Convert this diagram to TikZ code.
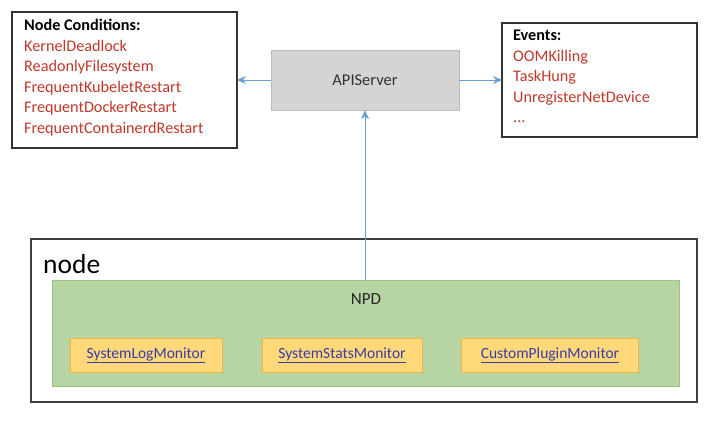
\documentclass[tikz,border=0pt]{standalone}
\usepackage{fontspec}
\setmainfont{Carlito}
\usetikzlibrary{arrows.meta}
\definecolor{redtxt}{HTML}{C0392B}
\definecolor{arrowblue}{HTML}{6A9FD6}
\definecolor{grayfill}{HTML}{D4D4D4}
\definecolor{grayline}{HTML}{BDBDBD}
\definecolor{greenfill}{HTML}{B7D4A3}
\definecolor{greenline}{HTML}{9CC184}
\definecolor{orangefill}{HTML}{FFD87A}
\definecolor{orangeline}{HTML}{F2B443}
\definecolor{linkblue}{HTML}{3A3AA8}
\begin{document}
\begin{tikzpicture}[x=1pt,y=-1pt,
  listbox/.style={draw=black!80,line width=1.2pt,fill=white},
  conn/.style={draw=arrowblue,line width=1pt,-{Stealth[length=9pt,width=8pt]}},
  monbox/.style={draw=orangeline,line width=0.8pt,fill=orangefill,minimum height=34pt,inner sep=0pt},
  linktxt/.style={font=\fontsize{15.5}{17}\selectfont,text=linkblue},
  listtxt/.style={font=\fontsize{16.2}{20.5}\selectfont,align=left,anchor=north west,inner sep=0pt}
]
\useasboundingbox (0,0) rectangle (706,420);
\fill[white] (0,0) rectangle (706,420);
% top boxes
\draw[listbox] (12,12) rectangle (237,148);
\coordinate (condR) at (237,80);
\node[listtxt] (cond) at (24,19) {\textbf{Node Conditions:}\\
\textcolor{redtxt}{KernelDeadlock}\\
\textcolor{redtxt}{ReadonlyFilesystem}\\
\textcolor{redtxt}{FrequentKubeletRestart}\\
\textcolor{redtxt}{FrequentDockerRestart}\\
\textcolor{redtxt}{FrequentContainerdRestart}};
\draw[listbox] (502,23) rectangle (697,137);
\coordinate (evL) at (502,80);
\node[listtxt] (ev) at (513,30) {\textbf{Events:}\\
\textcolor{redtxt}{OOMKilling}\\
\textcolor{redtxt}{TaskHung}\\
\textcolor{redtxt}{UnregisterNetDevice}\\
\textcolor{redtxt}{...}};
\node[draw=grayline,fill=grayfill,minimum width=188pt,minimum height=60pt,inner sep=0pt,font=\fontsize{16.5}{18}\selectfont,text=black!80] (api) at (365,80) {APIServer};
% node box
\draw[black!75,line width=1.2pt] (31,239) rectangle (697,402);
\node[anchor=west,inner sep=0pt,font=\fontsize{27.5}{30}\selectfont] (nodelbl) at (43,264) {node};
\node[draw=greenline,fill=greenfill,minimum width=627pt,minimum height=106pt,inner sep=0pt] (npd) at (365.5,333) {};
\node[font=\fontsize{17}{19}\selectfont,text=black!85] (npdlbl) at (366,299) {NPD};
\node[monbox,minimum width=152pt,linktxt] (m1) at (146,355) {\underline{SystemLogMonitor}};
\node[monbox,minimum width=160pt,linktxt] (m2) at (342,355) {\underline{SystemStatsMonitor}};
\node[monbox,minimum width=177pt,linktxt] (m3) at (550,355) {\underline{CustomPluginMonitor}};
% connectors
\draw[conn] (api.west |- condR) -- (condR);
\draw[conn] (api.east |- evL) -- (evL);
\draw[conn] (npd.north -| api.south) -- (api.south);
\end{tikzpicture}
\end{document}
